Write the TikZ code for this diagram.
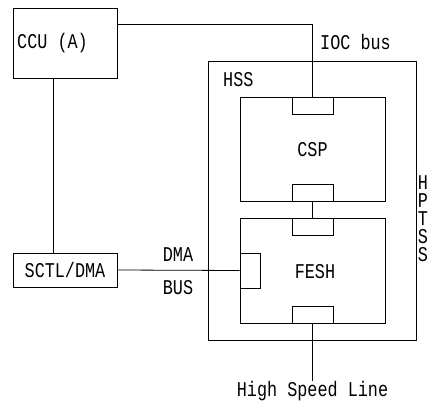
\documentclass[tikz,border=0pt]{standalone}
\usepackage{fontspec}
\setmonofont[FakeStretch=0.8]{Liberation Mono}
\usepackage{tikz}
\usetikzlibrary{positioning,calc}

\begin{document}
\begin{tikzpicture}[
          x=1pt, y=-1pt,
          every node/.style={font=\fontsize{21}{23}\selectfont\ttfamily},
          unit/.style={draw, line width=0.8pt, inner sep=0pt},
          port/.style={draw, line width=0.8pt, inner sep=0pt, minimum width=41pt, minimum height=17pt},
          lbl/.style={inner sep=0pt},
          wire/.style={line width=0.8pt}
      ]
        \useasboundingbox (0,0) rectangle (432,405);
        \node[unit, minimum width=104pt, minimum height=70pt] (ccu) at (65,43) {};
        \node[lbl, anchor=west] (ccutxt) at (17,43) {CCU (A)};
        \node[unit, minimum width=104pt, minimum height=34pt] (sctl) at (65,270) {SCTL/DMA};
        \node[unit, minimum width=208pt, minimum height=279pt] (hss) at (312,200.5) {};
        \node[unit, minimum width=145pt, minimum height=104pt] (csp) at (312.5,149) {};
        \node[unit, minimum width=145pt, minimum height=105pt] (fesh) at (312.5,270.5) {};
        \node[port] (csptop) at (312.5,105.5) {};
        \node[port] (cspbot) at (312.5,192.5) {};
        \node[port] (feshtop) at (312.5,226.5) {};
        \node[port, minimum width=20pt, minimum height=35pt] (feshleft) at (250,270.5) {};
        \node[port] (feshbot) at (312.5,314.5) {};
        % labels
        \node[lbl] (csptxt) at (312.5,150) {CSP};
        \node[lbl] (feshtxt) at (315,272) {FESH};
        \node[lbl, anchor=west] (hsstxt) at (223,80) {HSS};
        \node[lbl, anchor=west] (ioctxt) at (320,42) {IOC bus};
        \node[lbl] (dmatxt) at (178,255) {DMA};
        \node[lbl] (bustxt) at (178,288) {BUS};
        \foreach \ch [count=\i] in {H,P,T,S,S}
          \node[lbl] (hptss\i) at (423,165+18*\i) {\ch};
        \node[lbl, anchor=north] (hsl) at (312.5,381) {High Speed Line};
        % connectors
        \draw[wire] ([yshift=-17pt]ccu.north east) -| (csptop.north);
        \draw[wire] ([xshift=-12pt]ccu.south) -- ([xshift=-12pt]sctl.north);
        \draw[wire] (sctl.east) -- (feshleft.west);
        \draw[wire] (cspbot.south) -- (feshtop.north);
        \draw[wire] (feshbot.south) -- (hsl.north);
      \end{tikzpicture}
\end{document}
